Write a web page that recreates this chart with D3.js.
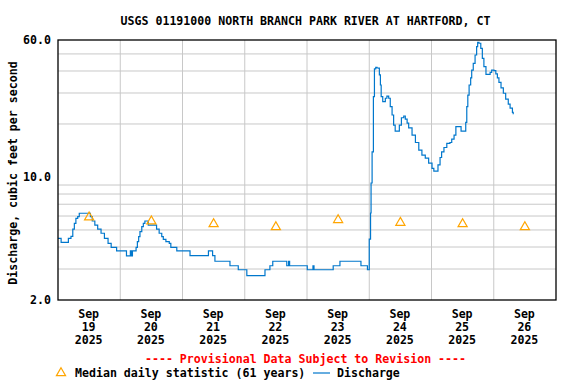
<!DOCTYPE html>
<html>
<head>
<meta charset="utf-8">
<script src="https://cdn.jsdelivr.net/npm/d3@7"></script>
<style>
    body { margin: 0; background: #fff; }
    text { font-family: "DejaVu Sans Mono", "Liberation Mono", monospace; font-weight: bold; }
</style>
</head>
<body>
<svg id="chart"></svg>
<script>
// hours since Sep 19 2025 00:00, discharge in cfs
const hours = [0, 1.2, 4.0, 5.0, 5.7, 6.3, 6.9, 7.6, 8.2, 12.5, 13.2, 14.2, 15.3, 16.6, 17.9, 19.3, 20.5, 22.6,
    26.4, 27.9, 28.3, 28.7, 30.1, 30.6, 31.1, 31.6, 32.3, 32.9, 33.5, 34.8, 38.0, 39.0, 40.0, 40.6, 41.6, 42.9,
    43.5, 45.8, 50.9, 58.0, 59.6, 60.5, 66.3, 69.5, 72.8, 79.8, 81.7, 82.8, 88.2, 88.9, 89.3, 96.1, 98.3, 98.7,
    106.1, 108.7, 116.8, 119.3, 120.0, 120.5, 120.7, 121.1, 121.6, 122.0, 122.5, 123.0, 123.6, 123.9, 124.3,
    124.6, 125.2, 126.2, 126.8, 127.5, 128.1, 128.8, 129.4, 130.0, 131.6, 132.4, 133.3, 133.9, 134.6, 135.2,
    136.5, 137.8, 139.1, 140.3, 141.6, 142.9, 144.2, 144.9, 146.5, 147.3, 147.9, 148.8, 149.9, 151.1, 151.8,
    152.7, 153.4, 155.4, 157.2, 157.6, 158.0, 158.5, 159.1, 159.5, 160.1, 160.8, 161.4, 161.8, 162.3, 163.0,
    163.6, 164.2, 165.0, 166.6, 167.2, 168.1, 168.8, 169.4, 170.0, 170.8, 171.7, 172.6, 173.6, 174.3, 175.2, 175.5];
const discharge = [4.48, 4.25, 4.48, 4.60, 5.06, 5.45, 5.82, 5.95, 6.22, 5.95, 5.62, 5.33, 5.06, 4.79, 4.48, 4.20, 3.98, 3.80,
    3.56, 3.80, 3.56, 3.80, 3.98, 4.29, 4.58, 4.89, 5.22, 5.45, 5.62, 5.33, 5.06, 4.79, 4.58, 4.42, 4.29, 4.20,
    3.98, 3.80, 3.57, 3.80, 3.57, 3.32, 3.13, 2.97, 2.75, 2.97, 3.13, 3.32, 3.13, 3.32, 3.13, 2.97, 3.13, 2.97,
    3.13, 3.32, 3.13, 2.97, 4.44, 6.24, 9.24, 13.9, 28.6, 41.1, 42.0, 41.6, 41.5, 38.0, 33.3,
    28.6, 26.8, 28.0, 28.8, 28.0, 25.1, 22.5, 19.7, 18.2, 19.7, 21.7, 22.2, 21.3, 20.2, 19.0,
    17.3, 15.7, 14.2, 13.3, 12.8, 12.0, 11.2, 10.8, 11.7, 12.9, 13.9, 14.7, 15.5, 15.7, 16.4,
    17.3, 19.3, 18.2, 20.4, 25.1, 29.2, 33.3, 36.6, 40.5, 44.2, 49.3, 55.0, 58.2, 57.5, 53.8,
    47.2, 42.3, 38.3, 39.3, 40.5, 40.2, 38.5, 36.6, 34.5, 32.1, 29.9, 27.7, 25.9, 24.6, 23.3, 22.7];

const medianDays = [19, 20, 21, 22, 23, 24, 25, 26];
const medianValues = [5.9, 5.6, 5.4, 5.2, 5.7, 5.5, 5.4, 5.2];

const yTicks = [2, 10, 60];
const yGrid = [3, 4, 5, 6, 7, 8, 9, 20, 30, 40, 50];

const title = "USGS 01191000 NORTH BRANCH PARK RIVER AT HARTFORD, CT";
const yTitle = "Discharge, cubic feet per second";

const margin = { top: 40, right: 20, bottom: 84, left: 58 };
const width = 576, height = 384;
const plotW = width - margin.left - margin.right;
const plotH = height - margin.top - margin.bottom;

const start = new Date(2025, 8, 19);
const toDate = h => new Date(start.getTime() + h * 3600e3);

const svg = d3.select("#chart").attr("width", width).attr("height", height);

const x = d3.scaleTime().domain([start, new Date(2025, 8, 27)]).range([0, plotW]);
const y = d3.scaleLog().domain([2, 60]).range([plotH, 0]);

const g = svg.append("g").attr("transform", `translate(${margin.left}, ${margin.top})`);

// grid
const dayLines = d3.range(1, 8).map(d => new Date(2025, 8, 19 + d));
g.selectAll(".vgrid").data(dayLines).join("line")
    .attr("x1", d => x(d)).attr("x2", d => x(d))
    .attr("y1", 0).attr("y2", plotH)
    .attr("stroke", "#c8c8c8");
g.selectAll(".hgrid").data(yGrid).join("line")
    .attr("x1", 0).attr("x2", plotW)
    .attr("y1", d => y(d)).attr("y2", d => y(d))
    .attr("stroke", "#c8c8c8");

// discharge line
const data = hours.map((h, i) => ({ t: toDate(h), v: discharge[i] }));
g.append("path")
    .datum(data)
    .attr("fill", "none")
    .attr("stroke", "#0077cc")
    .attr("stroke-width", 1.2)
    .attr("d", d3.line().x(d => x(d.t)).y(d => y(d.v)).curve(d3.curveStepAfter));

// median triangles
const tri = d3.symbol().type(d3.symbolTriangle).size(36);
g.selectAll(".median").data(medianDays.map((d, i) => ({ t: new Date(2025, 8, d, 12), v: medianValues[i] })))
    .join("path")
    .attr("d", tri)
    .attr("transform", d => `translate(${x(d.t)}, ${y(d.v)})`)
    .attr("fill", "none")
    .attr("stroke", "#ffa500")
    .attr("stroke-width", 1.2);

// frame
g.append("rect").attr("width", plotW).attr("height", plotH)
    .attr("fill", "none").attr("stroke", "#000").attr("stroke-width", 1.3);

// y axis labels
const yAxis = g.append("g")
    .call(d3.axisLeft(y).tickValues(yTicks).tickSize(0).tickPadding(7).tickFormat(d3.format(".1f")));
yAxis.select(".domain").remove();
yAxis.selectAll("text").attr("font-size", "11.6px").attr("fill", "#000");

// x axis labels, three lines at noon
const noons = medianDays.map(d => new Date(2025, 8, d, 12));
const xLab = g.selectAll(".xlab").data(noons).join("text")
    .attr("text-anchor", "middle")
    .attr("font-size", "11.6px")
    .attr("transform", d => `translate(${x(d) - 0.5}, ${plotH + 18})`);
xLab.append("tspan").attr("x", 0).attr("y", 0).text("Sep");
xLab.append("tspan").attr("x", 0).attr("y", 13).text(d => d3.timeFormat("%d")(d));
xLab.append("tspan").attr("x", 0).attr("y", 26).text("2025");

// titles
svg.append("text")
    .attr("x", 305.5).attr("y", 25)
    .attr("text-anchor", "middle").attr("font-size", "11.6px")
    .text(title);
svg.append("text")
    .attr("transform", `translate(17, ${margin.top + plotH / 2 + 3}) rotate(-90)`)
    .attr("text-anchor", "middle").attr("font-size", "11.6px")
    .text(yTitle);

svg.append("text")
    .attr("x", 305.5).attr("y", 363)
    .attr("text-anchor", "middle").attr("font-size", "11.6px").attr("fill", "#ff0000")
    .text("---- Provisional Data Subject to Revision ----");

// legend
const legend = svg.append("g");
legend.append("path").attr("d", tri)
    .attr("transform", "translate(61, 373)")
    .attr("fill", "none").attr("stroke", "#ffa500").attr("stroke-width", 1.2);
legend.append("text").attr("x", 75).attr("y", 377).attr("font-size", "11.6px")
    .text("Median daily statistic (61 years)");
legend.append("line").attr("x1", 313).attr("x2", 330).attr("y1", 373).attr("y2", 373)
    .attr("stroke", "#0077cc").attr("stroke-width", 1.2);
legend.append("text").attr("x", 337).attr("y", 377).attr("font-size", "11.6px")
    .text("Discharge");
</script>
</body>
</html>
